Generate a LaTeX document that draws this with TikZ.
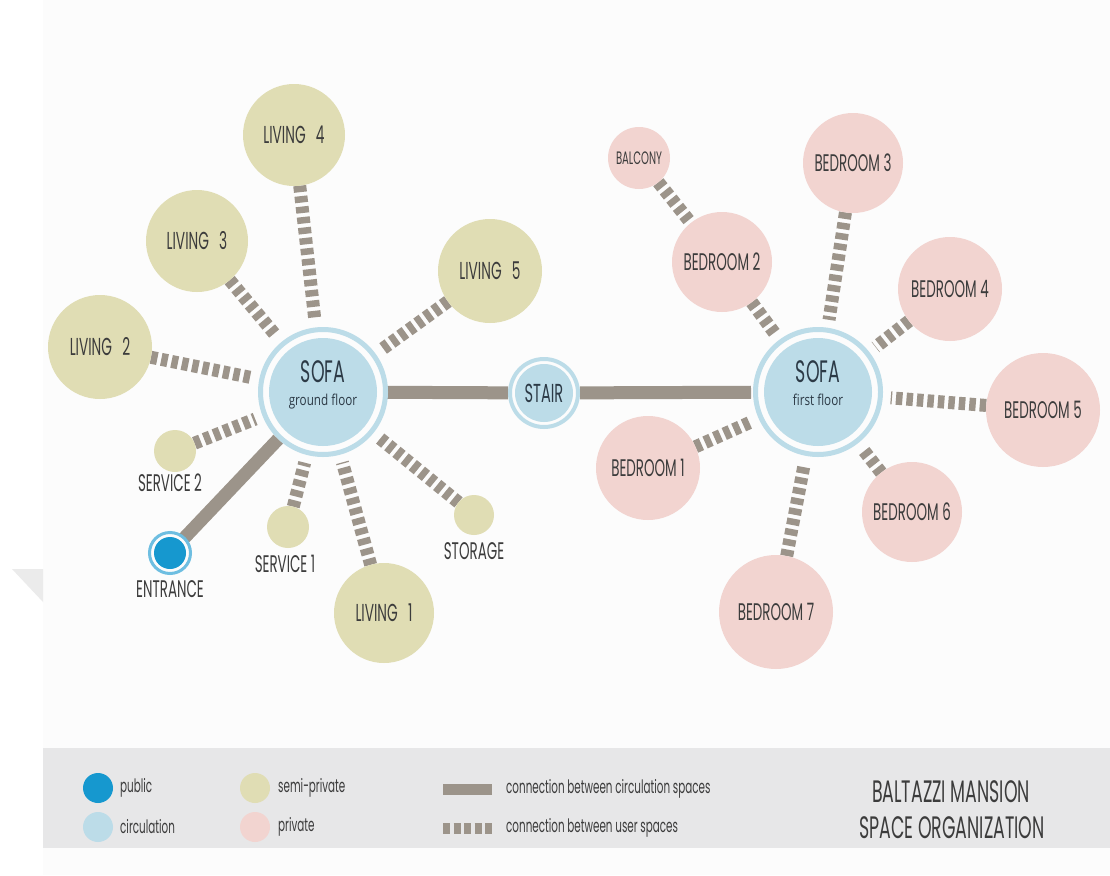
\documentclass[tikz,border=0pt]{standalone}
\usepackage{fontspec}
\setmainfont{Poppins}[FakeStretch=0.56]
\newfontfamily\subfont{Open Sans}[FakeStretch=0.78]

\definecolor{semipriv}{RGB}{224,221,180}
\definecolor{priv}{RGB}{242,212,208}
\definecolor{circ}{RGB}{188,220,232}
\definecolor{pub}{RGB}{22,152,207}
\definecolor{pubring}{RGB}{110,190,225}
\definecolor{link}{RGB}{156,148,138}
\definecolor{band}{RGB}{231,231,232}
\definecolor{paper}{RGB}{252,252,252}
\definecolor{ink}{RGB}{60,60,60}
\definecolor{hubink}{RGB}{44,58,70}

% wider word gap used in the living-room labels
\newcommand{\widegap}{\spaceskip 0.42em\relax}

\pgfdeclarelayer{back}
\pgfdeclarelayer{links}
\pgfsetlayers{back,links,main}

\tikzset{
  room/.style={circle, inner sep=0pt, outer sep=0pt, text=ink, align=center,
    font=\fontsize{24}{24}\selectfont},
  semi/.style={room, fill=semipriv,
    font=\fontsize{24.5}{24.5}\selectfont\widegap},
  prv/.style={room, fill=priv},
  hub/.style={circle, fill=circ, inner sep=0pt, outer sep=11pt, align=center,
    text=hubink, minimum size=108pt, font=\fontsize{31}{23}\selectfont},
  ring/.style={draw=circ, line width=5pt},
  tag/.style={text=ink, inner sep=0pt, font=\fontsize{24}{24}\selectfont},
  userlink/.style={draw=link, line width=13pt, dash pattern=on 6.5pt off 4pt,
    shorten >=8pt},
  circlink/.style={draw=link, line width=13pt},
  legtext/.style={text=ink, anchor=west, inner sep=0pt,
    font=\fontsize{18.5}{18.5}\selectfont},
  legdot/.style={circle, inner sep=0pt, minimum size=30pt},
}

\begin{document}
\begin{tikzpicture}[x=1pt,y=-1pt]
\useasboundingbox (0,0) rectangle (1110,875);

% paper and legend band
\begin{pgfonlayer}{back}
  \fill[white] (0,0) rectangle (1110,875);
  \fill[paper] (43,0) rectangle (1110,875);
  \fill[black!8] (12,569) -- (43,569) -- (43,602) -- cycle;
  \fill[band] (43,748) rectangle (1110,848);
\end{pgfonlayer}

% ---- ground floor ----
\node[hub] (sofaG) at (323,392) {SOFA\\{\subfont\fontsize{15}{15}\selectfont ground floor}\\[-6pt]};
\draw[ring] (sofaG.center) circle[radius=62.5pt];

\node[semi, minimum size=102pt] (liv4) at (294,135) {LIVING 4};
\node[semi, minimum size=102pt] (liv3) at (197,241) {LIVING 3};
\node[semi, minimum size=104pt] (liv2) at (100,347) {LIVING 2};
\node[semi, minimum size=104pt] (liv5) at (490,271) {LIVING 5};
\node[semi, minimum size=100pt] (liv1) at (384,613) {LIVING 1};
\node[semi, minimum size=42pt] (svc2) at (175,451) {};
\node[semi, minimum size=42pt] (svc1) at (288,527) {};
\node[semi, minimum size=40pt] (stor) at (474,515) {};
\node[tag] (svc2t) at (170,483) {SERVICE 2};
\node[tag] (svc1t) at (285,564) {SERVICE 1};
\node[tag] (stort) at (474,551) {STORAGE};

\node[circle, fill=pub, inner sep=0pt, minimum size=32pt, outer sep=6pt] (ent) at (170,553) {};
\draw[draw=pubring, line width=3pt] (ent.center) circle[radius=20.5pt];
\node[tag] (entt) at (170,589) {ENTRANCE};

% ---- stair ----
\node[hub, minimum size=58pt, outer sep=7pt, font=\fontsize{26}{26}\selectfont] (stair) at (544,393) {STAIR};
\draw[draw=circ, line width=4pt] (stair.center) circle[radius=34pt];

% ---- first floor ----
\node[hub] (sofaF) at (818,392) {SOFA\\{\subfont\fontsize{15}{15}\selectfont first floor}\\[-6pt]};
\draw[ring] (sofaF.center) circle[radius=62.5pt];

\node[prv, minimum size=62pt, font=\fontsize{18}{18}\selectfont] (bal) at (639,158) {BALCONY};
\node[prv, minimum size=100pt] (bed2) at (722,262) {BEDROOM 2};
\node[prv, minimum size=100pt] (bed3) at (853,163) {BEDROOM 3};
\node[prv, minimum size=104pt] (bed4) at (950,289) {BEDROOM 4};
\node[prv, minimum size=114pt] (bed5) at (1043,410) {BEDROOM 5};
\node[prv, minimum size=100pt] (bed6) at (912,512) {BEDROOM 6};
\node[prv, minimum size=114pt] (bed7) at (776,612) {BEDROOM 7};
\node[prv, minimum size=104pt] (bed1) at (648,468) {BEDROOM 1};

% ---- connectors ----
\begin{pgfonlayer}{links}
  \foreach \r in {liv4,liv3,liv2,liv5,liv1,svc2,svc1,stor}
    \draw[userlink] (\r) -- (sofaG);
  \foreach \r in {bed2,bed3,bed4,bed5,bed6,bed7,bed1}
    \draw[userlink] (\r) -- (sofaF);
  \draw[userlink, shorten >=0pt] (bal) -- (bed2);
  \draw[circlink, shorten <=-2pt] (sofaG) -- (stair);
  \draw[circlink, shorten >=2pt] (stair) -- (sofaF);
  \draw[circlink, shorten <=-2pt] (ent) -- (sofaG);
\end{pgfonlayer}

% ---- legend ----
\node[legdot, fill=pub] (lgPub) at (98,788) {};
\node[legtext] (lgPubT) at (120,788) {public};
\node[legdot, fill=circ] (lgCirc) at (98,827) {};
\node[legtext] (lgCircT) at (120,827) {circulation};
\node[legdot, fill=semipriv] (lgSemi) at (255,788) {};
\node[legtext] (lgSemiT) at (278,788) {semi-private};
\node[legdot, fill=priv] (lgPriv) at (255,827) {};
\node[legtext] (lgPrivT) at (278,827) {private};

\coordinate (lgA1) at (443,789);
\coordinate (lgA2) at (492,789);
\draw[circlink, line width=11pt] (lgA1) -- (lgA2);
\node[legtext] (lgAT) at (506,789) {connection between circulation spaces};
\coordinate (lgB1) at (443,828);
\coordinate (lgB2) at (492,828);
\draw[draw=link, line width=11pt, dash pattern=on 7pt off 3.5pt] (lgB1) -- (lgB2);
\node[legtext] (lgBT) at (506,828) {connection between user spaces};

\node[text=ink, font=\fontsize{31}{31}\selectfont] (title1) at (951,792) {BALTAZZI MANSION};
\node[text=ink, font=\fontsize{31}{31}\selectfont] (title2) at (952,828) {SPACE ORGANIZATION};
\end{tikzpicture}
\end{document}
